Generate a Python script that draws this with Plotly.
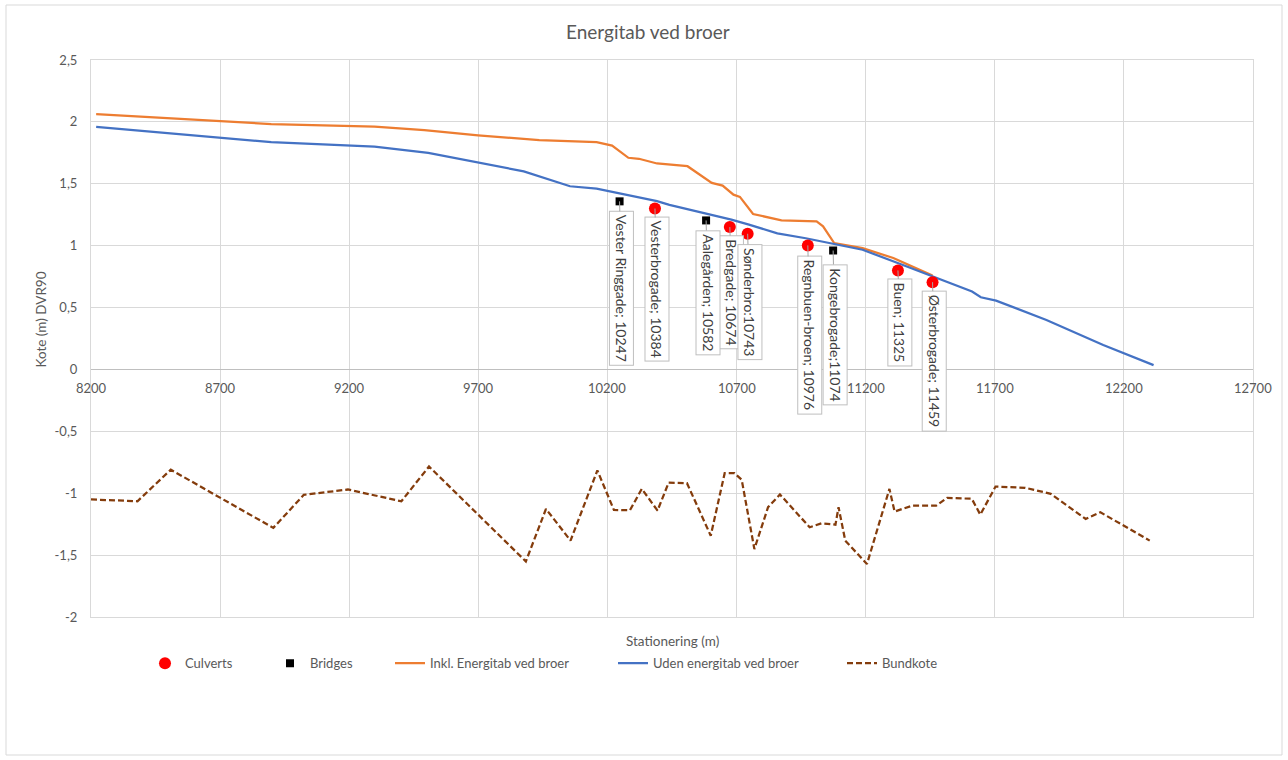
import plotly.graph_objects as go

# ---------------- data ----------------
uden_x = [8220, 8898, 9298, 9506, 9876, 10055, 10158, 10273, 10332, 10392, 10440, 10510,
          10680, 10748, 10858, 10968, 11087, 11188, 11324, 11459, 11612, 11646, 11705,
          11900, 12120, 12315]
uden_y = [1.96, 1.836, 1.80, 1.75, 1.60, 1.48, 1.46, 1.41, 1.39, 1.36, 1.33, 1.296,
          1.21, 1.17, 1.10, 1.06, 1.007, 0.967, 0.86, 0.75, 0.63, 0.583, 0.556,
          0.40, 0.197, 0.035]

inkl_x = [8220, 8691, 8898, 9298, 9491, 9699, 9936, 10158, 10218, 10281, 10322, 10392,
          10510, 10604, 10646, 10688, 10713, 10764, 10874, 11010, 11035, 11078, 11188,
          11307, 11459]
inkl_y = [2.063, 2.007, 1.982, 1.961, 1.934, 1.891, 1.853, 1.836, 1.809, 1.71, 1.702, 1.664,
          1.642, 1.507, 1.485, 1.412, 1.394, 1.256, 1.204, 1.196, 1.156, 1.021, 0.98,
          0.90, 0.758]

bund_x = [8200, 8380, 8509, 8906, 9024, 9195, 9402, 9509, 9884, 9962, 10057, 10161,
          10225, 10287, 10333, 10394, 10437, 10508, 10600, 10654, 10692, 10720, 10769,
          10822, 10868, 10983, 11029, 11083, 11095, 11121, 11205, 11292, 11312, 11381,
          11473, 11516, 11611, 11644, 11703, 11818, 11917, 12052, 12109, 12300]
bund_y = [-1.05, -1.065, -0.81, -1.28, -1.013, -0.97, -1.065, -0.784, -1.551, -1.127, -1.383, -0.816,
          -1.135, -1.138, -0.965, -1.14, -0.915, -0.919, -1.343, -0.838, -0.838, -0.892, -1.451,
          -1.113, -1.01, -1.275, -1.243, -1.254, -1.113, -1.383, -1.572, -0.965, -1.148, -1.10,
          -1.10, -1.037, -1.045, -1.173, -0.946, -0.956, -1.005, -1.208, -1.154, -1.383]

culvert_x = [10384, 10674, 10743, 10976, 11325, 11459]
culvert_y = [1.30, 1.15, 1.096, 1.002, 0.80, 0.705]
culvert_labels = ["Vesterbrogade; 10384", "Bredgade; 10674", "Sønderbro:10743",
                  "Regnbuen-broen; 10976", "Buen; 11325", "Østerbrogade; 11459"]

bridge_x = [10247, 10582, 11074]
bridge_y = [1.358, 1.204, 0.961]
bridge_labels = ["Vester Ringgade; 10247", "Aalegården; 10582", "Kongebrogade;11074"]

x_ticks = [8200, 8700, 9200, 9700, 10200, 10700, 11200, 11700, 12200, 12700]
y_ticks = [-2, -1.5, -1, -0.5, 0, 0.5, 1, 1.5, 2, 2.5]
y_ticktext = ["-2", "-1,5", "-1", "-0,5", "0", "0,5", "1", "1,5", "2", "2,5"]

# ---------------- style ----------------
FONT = "Lato, Carlito, Calibri, sans-serif"
TXT = "#595959"
GRID = "#D9D9D9"

# pixel offsets (label box centre below its marker), in label order
culvert_label_dy = [81, 65, 68, 90, 52, 79]
bridge_label_dy = [87, 72, 84]

fig = go.Figure()

fig.add_trace(go.Scatter(x=inkl_x, y=inkl_y, mode="lines", name="Inkl. Energitab ved broer",
                         line=dict(color="#ED7D31", width=2.25), legend="legend3"))
fig.add_trace(go.Scatter(x=uden_x, y=uden_y, mode="lines", name="Uden energitab ved broer",
                         line=dict(color="#4472C4", width=2.25), legend="legend4"))
fig.add_trace(go.Scatter(x=bund_x, y=bund_y, mode="lines", name="Bundkote",
                         line=dict(color="#843C0C", width=2.25, dash="6px,3px"), legend="legend5"))
fig.add_trace(go.Scatter(x=culvert_x, y=culvert_y, mode="markers", name="Culverts",
                         marker=dict(color="#FF0000", size=12, symbol="circle"), legend="legend"))
fig.add_trace(go.Scatter(x=bridge_x, y=bridge_y, mode="markers", name="Bridges",
                         marker=dict(color="#000000", size=8, symbol="square"), legend="legend2"))

annotations = []
for xs, ys, labs, dys in [(culvert_x, culvert_y, culvert_labels, culvert_label_dy),
                          (bridge_x, bridge_y, bridge_labels, bridge_label_dy)]:
    for xv, yv, lab, dy in zip(xs, ys, labs, dys):
        annotations.append(dict(
            x=xv, y=yv, xref="x", yref="y", text=lab, textangle=90,
            showarrow=True, arrowhead=0, arrowwidth=1, arrowcolor="#A6A6A6",
            ax=2, ay=dy,
            bgcolor="white", bordercolor="#BFBFBF", borderwidth=1, borderpad=3,
            font=dict(family=FONT, size=14, color="#404040")))

# x tick labels sit next to the horizontal axis at y = 0
for t in x_ticks:
    annotations.append(dict(x=t, y=0, xref="x", yref="y", text=str(t), showarrow=False,
                            yanchor="middle", yshift=-19,
                            font=dict(family=FONT, size=13, color=TXT)))

# axis titles
annotations.append(dict(x=0.5, y=-0.025, xref="paper", yref="paper", text="Stationering (m)",
                        showarrow=False, yanchor="top",
                        font=dict(family=FONT, size=13.5, color=TXT)))
annotations.append(dict(x=-0.034, y=0.535, xref="paper", yref="paper", text="Kote (m) DVR90",
                        showarrow=False, textangle=-90, xanchor="right",
                        font=dict(family=FONT, size=13.5, color=TXT)))


def leg(px):
    return dict(orientation="h", x=(px - 91) / 1162, xanchor="left", y=-0.083, yanchor="middle",
                font=dict(family=FONT, size=13, color=TXT), bgcolor="rgba(0,0,0,0)",
                itemwidth=30)


fig.update_layout(
    width=1288, height=760,
    margin=dict(l=91, r=35, t=60, b=143),
    paper_bgcolor="white", plot_bgcolor="white",
    title=dict(text="Energitab ved broer", x=0.503, xanchor="center", y=0.957, yanchor="middle",
               font=dict(family=FONT, size=19, color=TXT)),
    font=dict(family=FONT, size=13, color=TXT),
    showlegend=True,
    legend=leg(145), legend2=leg(270), legend3=leg(390), legend4=leg(613), legend5=leg(842),
    annotations=annotations,
    shapes=[dict(type="rect", xref="paper", yref="paper",
                 x0=(6 - 91) / 1162, x1=(1282 - 91) / 1162,
                 y0=(617 - 755) / 557, y1=(617 - 5) / 557,
                 line=dict(color=GRID, width=1), fillcolor="rgba(0,0,0,0)", layer="below")],
)

fig.update_xaxes(range=[8200, 12700], tickvals=x_ticks, showticklabels=False,
                 showgrid=True, gridcolor=GRID, gridwidth=1, zeroline=False,
                 showline=True, mirror=True, linecolor=GRID, linewidth=1, ticks="")
fig.update_yaxes(range=[-2, 2.5], tickvals=y_ticks, ticktext=y_ticktext,
                 showgrid=True, gridcolor=GRID, gridwidth=1,
                 zeroline=True, zerolinecolor="#BFBFBF", zerolinewidth=1,
                 showline=True, mirror=True, linecolor=GRID, linewidth=1,
                 ticks="outside", ticklen=0, ticklabelstandoff=10,
                 tickfont=dict(family=FONT, size=13, color=TXT))

fig.write_html("out.html")
